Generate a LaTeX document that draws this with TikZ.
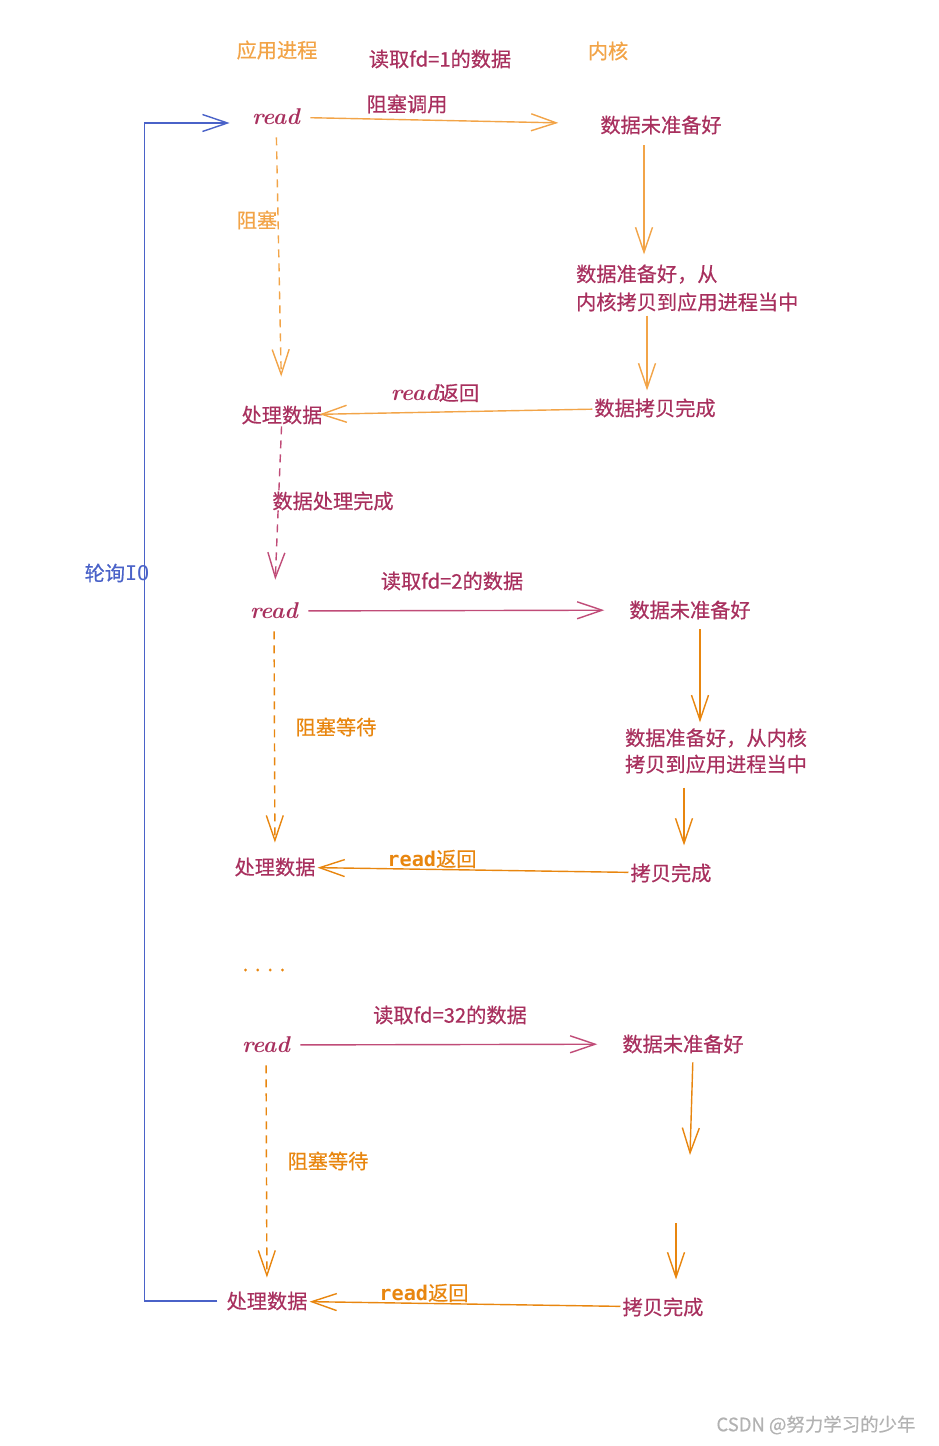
\documentclass[tikz,border=0pt]{standalone}
\usepackage{fontspec}
\usetikzlibrary{arrows.meta}
\newfontfamily\cjk{Noto Sans CJK SC}[FakeBold=0.5]
\newfontfamily\monob{DejaVu Sans Mono}
\definecolor{txtred}{HTML}{A8305E}
\definecolor{linered}{HTML}{C04C78}
\definecolor{lightorange}{HTML}{F2A448}
\definecolor{darkorange}{HTML}{E8860F}
\definecolor{loopblue}{HTML}{4A62C8}

\begin{document}
\begin{tikzpicture}[x=0.02cm,y=-0.02cm,
  txt/.style={font=\cjk\fontsize{11.5}{14}\selectfont,inner sep=1pt,text=txtred},
  hand/.style={font=\rmfamily\bfseries\itshape\fontsize{13}{15}\selectfont,text=txtred,inner sep=0pt,minimum width=1.36cm,minimum height=0.8cm},
  barb/.style={line width=0.8pt,-{Straight Barb[length=5mm,width=3.4mm]}},
  wait/.style={barb,dash pattern=on 0.16cm off 0.12cm}]
\useasboundingbox (0,0) rectangle (938,1446);

% titles
\node[txt,text=lightorange] (app) at (277,50) {应用进程};
\node[txt] (fd1) at (440,59) {读取fd=1的数据};
\node[txt,text=lightorange] (kernel) at (608,51) {内核};

% first read
\node[hand] (read1) at (276,117) {read};
\node[txt] (notready1) at (661,125) {数据未准备好};
\node[txt,align=left,anchor=west,font=\cjk\fontsize{11.5}{16}\selectfont] (ready1) at (574,288) {数据准备好，从\\内核拷贝到应用进程当中};
\node[txt] (copied1) at (655,408) {数据拷贝完成};
\node[txt] (proc1) at (282,415) {处理数据};
\node[txt] (call1) at (407,104) {阻塞调用};
\node[txt] (ret1) at (435,393) {{\rmfamily\bfseries\itshape\fontsize{13}{15}\selectfont read}返回};
\node[txt,text=lightorange] (block1) at (257,220) {阻塞};
\node[txt] (done1) at (333,501) {数据处理完成};

\draw[barb,lightorange,shorten >=0.8cm] (read1) -- (notready1);
\draw[barb,lightorange,shorten <=0.18cm,shorten >=0.16cm] ([xshift=-0.34cm]notready1.south) -- ([xshift=-0.34cm]notready1.south |- ready1.north);
\draw[barb,lightorange,shorten <=0.04cm,shorten >=0.12cm] ([xshift=-0.16cm]copied1.north |- ready1.south) -- ([xshift=-0.16cm]copied1.north);
\draw[barb,lightorange,shorten >=-0.1cm] (copied1) -- (proc1);
\draw[wait,lightorange,shorten >=0.54cm] (read1) -- (proc1);

% second read
\node[hand] (read2) at (274,611) {read};
\node[txt] (fd2) at (452,581) {读取fd=2的数据};
\node[txt] (notready2) at (690,610) {数据未准备好};
\node[txt,align=left,anchor=west,font=\cjk\fontsize{11.5}{15}\selectfont] (ready2) at (623,751) {数据准备好，从内核\\拷贝到应用进程当中};
\node[txt] (copied2) at (671,873) {拷贝完成};
\node[txt] (proc2) at (275,867) {处理数据};
\node[txt,text=darkorange] (ret2) at (432,859) {{\monob\bfseries read}返回};
\node[txt,text=darkorange] (block2) at (336,727) {阻塞等待};

\draw[wait,linered,shorten >=0.22cm] (proc1) -- (read2);
\draw[barb,linered,shorten >=0.46cm] (read2) -- (notready2);
\draw[barb,darkorange,shorten <=0.16cm,shorten >=0.08cm] ([xshift=0.2cm]notready2.south) -- ([xshift=0.2cm]notready2.south |- ready2.north);
\draw[barb,darkorange,shorten <=0.24cm,shorten >=0.32cm] ([xshift=0.26cm]copied2.north |- ready2.south) -- ([xshift=0.26cm]copied2.north);
\draw[barb,darkorange] (copied2) -- (proc2);
\draw[wait,darkorange,shorten >=0.26cm] (read2) -- (proc2);

% more reads
\node[txt,text=darkorange] (more) at (264,970) {.\,\,.\,\,.\,\,.};

% last read
\node[hand] (read3) at (266,1045) {read};
\node[txt] (fd3) at (450,1015) {读取fd=32的数据};
\node[txt] (notready3) at (683,1044) {数据未准备好};
\coordinate (ready3) at (690,1155);
\coordinate (resume3) at (676,1223);
\node[txt] (copied3) at (663,1307) {拷贝完成};
\node[txt] (proc3) at (267,1301) {处理数据};
\node[txt,text=darkorange] (ret3) at (424,1293) {{\monob\bfseries read}返回};
\node[txt,text=darkorange] (block3) at (328,1161) {阻塞等待};

\draw[barb,linered,shorten >=0.46cm] (read3) -- (notready3);
\draw[barb,darkorange,shorten <=0.14cm] ([xshift=0.2cm]notready3.south) -- (ready3);
\draw[barb,darkorange,shorten >=0.32cm] (resume3) -- (resume3 |- copied3.north);
\draw[barb,darkorange] (copied3) -- (proc3);
\draw[wait,darkorange,shorten >=0.24cm] (read3) -- (proc3);

% polling loop
\draw[barb,loopblue,shorten <=0.14cm,shorten >=0.24cm] (proc3.west) -- ++(-80,0) |- ([yshift=-0.12cm]read1.west);
\node[txt,text=loopblue] (poll) at (117,573) {轮询{\monob IO}};

\node[txt,text=gray!60,font=\cjk\fontsize{10.5}{12}\selectfont] (mark) at (816,1425) {CSDN @努力学习的少年};
\end{tikzpicture}
\end{document}
